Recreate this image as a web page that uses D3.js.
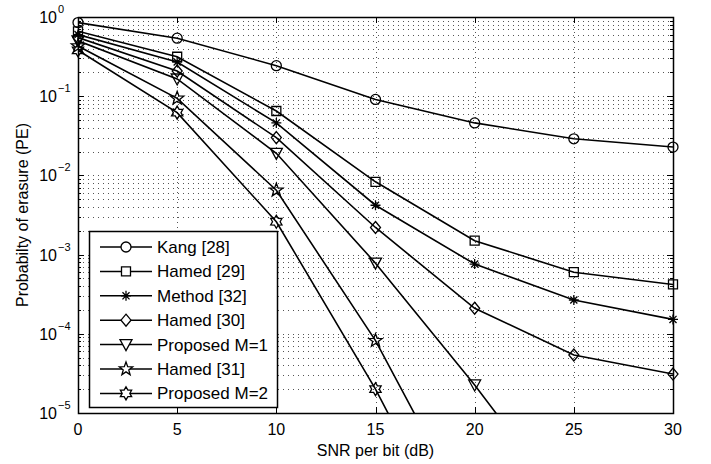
<!DOCTYPE html>
<html>
<head>
<meta charset="utf-8">
<script src="https://cdn.jsdelivr.net/npm/d3@7"></script>
<style>
	body { margin: 0; background: #fff; }
	text { font-family: "Liberation Sans", Arial, sans-serif; fill: #000; }
</style>
</head>
<body>
<svg id="chart" width="711" height="464"></svg>
<script>
// SNR per bit (dB)
var snr = [0, 5, 10, 15, 20, 25, 30];

// probability of erasure, one array per curve (points past the bottom edge only steer the clipped line)
var kang = [0.85, 0.54, 0.243, 0.091, 0.046, 0.029, 0.0228];
var hamed29 = [0.66, 0.315, 0.065, 0.0083, 0.0015, 0.0006, 0.00042];
var method32 = [0.6, 0.27, 0.046, 0.0042, 0.00076, 0.000267, 0.000152];
var hamed30 = [0.55, 0.208, 0.030, 0.0022, 0.00021, 0.000054, 0.000031];
var proposedM1 = [0.5, 0.165, 0.019, 0.00078, 0.0000226, 0.0000005];
var hamed31 = [0.43, 0.094, 0.0065, 0.000082, 0.00000037];
var proposedM2 = [0.38, 0.062, 0.0026, 0.00002, 0.00000008];

var names = ["Kang [28]", "Hamed [29]", "Method [32]", "Hamed [30]", "Proposed M=1", "Hamed [31]", "Proposed M=2"];
var markers = ["circle", "square", "asterisk", "diamond", "triangle", "pentagram", "hexagram"];
var curves = [kang, hamed29, method32, hamed30, proposedM1, hamed31, proposedM2];

var xTicks = [0, 5, 10, 15, 20, 25, 30];
var yExps = [0, -1, -2, -3, -4, -5];

var margin = {top: 17, right: 38, bottom: 51, left: 78},
	width = 711 - margin.left - margin.right,
	height = 464 - margin.top - margin.bottom,
	svg = d3.select("#chart")
		.append("g")
		.attr("transform", "translate(" + margin.left + "," + margin.top + ")"),
	x = d3.scaleLinear().domain([0, 30]).range([0, width]),
	y = d3.scaleLog().domain([1e-5, 1]).range([height, 0]);

svg.append("rect").attr("width", width).attr("height", height).attr("fill", "#fff");

// minor + major grid
var minorVals = [];
yExps.forEach(function(e) {
	if (e == -5) return;
	for (var k = 1; k < 10; k++) minorVals.push(k * Math.pow(10, e - 1));
});
svg.selectAll(".hgrid")
	.data(minorVals)
	.enter().append("line")
	.attr("class", "hgrid")
	.attr("x1", 0).attr("x2", width)
	.attr("y1", function(d) { return Math.round(y(d)) + 0.5; })
	.attr("y2", function(d) { return Math.round(y(d)) + 0.5; })
	.attr("stroke", "#555")
	.attr("stroke-width", 1)
	.attr("stroke-dasharray", "1,4");

svg.selectAll(".vgrid")
	.data(xTicks.slice(1, -1))
	.enter().append("line")
	.attr("class", "vgrid")
	.attr("x1", function(d) { return Math.round(x(d)) + 0.5; })
	.attr("x2", function(d) { return Math.round(x(d)) + 0.5; })
	.attr("y1", 0).attr("y2", height)
	.attr("stroke", "#555")
	.attr("stroke-width", 1)
	.attr("stroke-dasharray", "1,4");

// ticks inside the box
var tick = svg.append("g").attr("stroke", "#000").attr("stroke-width", 1);
xTicks.forEach(function(d) {
	var px = Math.round(x(d)) + 0.5;
	tick.append("line").attr("x1", px).attr("x2", px).attr("y1", height).attr("y2", height - 6);
	tick.append("line").attr("x1", px).attr("x2", px).attr("y1", 0).attr("y2", 6);
});
minorVals.concat([1e-5]).forEach(function(d) {
	var py = Math.round(y(d)) + 0.5,
		len = Math.abs(Math.log10(d) - Math.round(Math.log10(d))) < 1e-6 ? 6 : 3;
	tick.append("line").attr("x1", 0).attr("x2", len).attr("y1", py).attr("y2", py);
	tick.append("line").attr("x1", width).attr("x2", width - len).attr("y1", py).attr("y2", py);
});

// curves
svg.append("clipPath").attr("id", "clip")
	.append("rect").attr("width", width).attr("height", height);

var line = d3.line()
	.x(function(d) { return x(d[0]); })
	.y(function(d) { return y(d[1]); });

function symbolPath(type) {
	var p = d3.path();
	if (type == "circle") {
		p.arc(0, 0, 5, 0, 2 * Math.PI);
	} else if (type == "square") {
		p.rect(-4.5, -4.5, 9, 9);
	} else if (type == "diamond") {
		p.moveTo(0, -6); p.lineTo(5, 0); p.lineTo(0, 6); p.lineTo(-5, 0); p.closePath();
	} else if (type == "triangle") {
		p.moveTo(-6, -5); p.lineTo(6, -5); p.lineTo(0, 6); p.closePath();
	} else if (type == "asterisk") {
		for (var a = 0; a < 4; a++) {
			var t = a * Math.PI / 4;
			p.moveTo(-5 * Math.cos(t), -5 * Math.sin(t));
			p.lineTo(5 * Math.cos(t), 5 * Math.sin(t));
		}
	} else if (type == "pentagram" || type == "hexagram") {
		var n = type == "pentagram" ? 5 : 6,
			ro = type == "pentagram" ? 7 : 6.5,
			ri = type == "pentagram" ? 2.9 : 3.8;
		for (var i = 0; i < 2 * n; i++) {
			var r = i % 2 ? ri : ro,
				ang = -Math.PI / 2 + i * Math.PI / n;
			if (i == 0) p.moveTo(r * Math.cos(ang), r * Math.sin(ang));
			else p.lineTo(r * Math.cos(ang), r * Math.sin(ang));
		}
		p.closePath();
	}
	return p.toString();
}

curves.forEach(function(vals, i) {
	var pts = vals.map(function(v, j) { return [snr[j], v]; });
	svg.append("path")
		.datum(pts)
		.attr("clip-path", "url(#clip)")
		.attr("fill", "none")
		.attr("stroke", "#000")
		.attr("stroke-width", 1.6)
		.attr("d", line);
	svg.selectAll(".m" + i)
		.data(pts.filter(function(d) { return d[1] >= 1e-5; }))
		.enter().append("path")
		.attr("class", "m" + i)
		.attr("transform", function(d) { return "translate(" + x(d[0]) + "," + y(d[1]) + ")"; })
		.attr("d", symbolPath(markers[i]))
		.attr("fill", "none")
		.attr("stroke", "#000")
		.attr("stroke-width", 1.3);
});

// box
svg.append("rect")
	.attr("x", 0.5).attr("y", 0.5)
	.attr("width", width).attr("height", height)
	.attr("fill", "none").attr("stroke", "#000").attr("stroke-width", 1.5);

// tick labels
svg.selectAll(".xlab")
	.data(xTicks)
	.enter().append("text")
	.attr("class", "xlab")
	.attr("x", function(d) { return x(d); })
	.attr("y", height + 22)
	.attr("text-anchor", "middle")
	.attr("font-size", 16)
	.text(function(d) { return d; });

var ylab = svg.selectAll(".ylab")
	.data(yExps)
	.enter().append("g")
	.attr("class", "ylab")
	.attr("transform", function(d) { return "translate(-21," + y(Math.pow(10, d)) + ")"; });
ylab.append("text")
	.attr("text-anchor", "end")
	.attr("y", 6)
	.attr("font-size", 16)
	.text("10");
ylab.append("text")
	.attr("x", 1)
	.attr("y", -4)
	.attr("font-size", 11)
	.text(function(d) { return d == 0 ? "0" : "\u2212" + (-d); });

// axis titles
svg.append("text")
	.attr("x", width / 2)
	.attr("y", height + 43)
	.attr("text-anchor", "middle")
	.attr("font-size", 16)
	.text("SNR per bit (dB)");

svg.append("text")
	.attr("transform", "translate(-50," + (height / 2) + ") rotate(-90)")
	.attr("text-anchor", "middle")
	.attr("font-size", 16)
	.text("Probabilty of erasure (PE)");

// legend
var legend = svg.append("g").attr("transform", "translate(11,214)");
legend.append("rect")
	.attr("x", 0.5).attr("y", 0.5)
	.attr("width", 188).attr("height", 176)
	.attr("fill", "#fff").attr("stroke", "#000").attr("stroke-width", 1.5);
var item = legend.selectAll(".item")
	.data(names)
	.enter().append("g")
	.attr("class", "item")
	.attr("transform", function(d, i) { return "translate(0," + (16 + i * 24.4) + ")"; });
item.append("line")
	.attr("x1", 11).attr("x2", 63)
	.attr("stroke", "#000").attr("stroke-width", 1.5);
item.append("path")
	.attr("transform", "translate(37,0)")
	.attr("d", function(d, i) { return symbolPath(markers[i]); })
	.attr("fill", "#fff")
	.attr("stroke", "#000")
	.attr("stroke-width", 1.3);
item.append("text")
	.attr("x", 68)
	.attr("y", 6)
	.attr("font-size", 17)
	.text(function(d) { return d; });
</script>
</body>
</html>
